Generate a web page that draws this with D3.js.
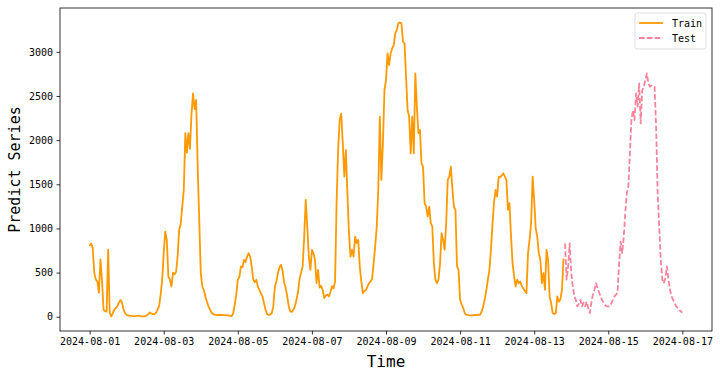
<!DOCTYPE html>
<meta charset="utf-8">
<style>
    body {
        margin: 0;
        overflow: hidden;
        background: #fff;
    }
    text {
        font-family: "DejaVu Sans Mono", monospace;
        fill: #000;
    }
</style>
<svg id="canvas" width="720" height="378"></svg>
<script src="https://d3js.org/d3.v7.min.js"></script>
<script>

    // hourly readings starting 2024-08-01 00:00
    var startTime = "2024-08-01T00:00:00Z";

    var trainValues = [
        800, 830, 780, 500, 420, 400, 270, 650, 420, 80, 60, 60, 760, 45, 5, 40, 80, 100, 120, 160, 190, 160, 80, 40,
        20, 15, 10, 10, 8, 8, 10, 10, 12, 8, 5, 5, 8, 15, 30, 50, 35, 30, 30, 45, 80, 120, 250, 420,
        720, 965, 870, 456, 420, 343, 500, 480, 510, 680, 985, 1050, 1250, 1436, 2080, 1855, 2080, 1900, 2300, 2530, 2350, 2455, 1700, 1097,
        497, 343, 300, 230, 170, 117, 80, 45, 30, 25, 22, 20, 22, 20, 20, 18, 18, 15, 15, 10, 8, 40, 136, 250,
        420, 450, 570, 560, 645, 620, 680, 720, 680, 570, 420, 390, 420, 340, 305, 260, 230, 150, 80, 30, 20, 25, 40, 120,
        343, 400, 495, 560, 588, 520, 390, 330, 230, 120, 60, 55, 80, 120, 192, 280, 430, 495, 570, 908, 1323, 1021, 680, 530,
        758, 720, 645, 380, 530, 330, 350, 300, 212, 240, 250, 230, 280, 345, 320, 400, 1300, 1900, 2230, 2300, 1965, 1587, 1889, 1400,
        947, 680, 758, 680, 908, 835, 870, 570, 400, 268, 290, 305, 340, 380, 400, 430, 607, 800, 1021, 1436, 2265, 1550, 1965, 2567,
        2680, 2982, 2850, 2982, 3039, 3077, 3208, 3246, 3322, 3330, 3322, 3114, 3095, 2718, 2341, 2265, 1851, 2265, 1851, 2756, 2379, 2078, 2115, 1738,
        1700, 1286, 1248, 1135, 1248, 1060, 1021, 607, 420, 380, 420, 600, 947, 870, 758, 1060, 1550, 1587, 1700, 1450, 1248, 1210, 570, 530,
        192, 140, 100, 42, 25, 20, 15, 15, 15, 20, 22, 20, 20, 25, 60, 120, 200, 300, 420, 530, 760, 1050, 1300, 1436,
        1360, 1587, 1580, 1600, 1625, 1587, 1550, 1210, 1286, 908, 607, 456, 343, 420, 380, 400, 345, 320, 290, 268, 720, 870, 1060, 1587,
        1320, 1000, 905, 720, 645, 380, 495, 305, 758, 645, 230, 155, 42, 30, 42, 230, 170, 200, 305, 660
    ];

    var testValues = [
        830, 420, 570, 830, 495, 350, 230, 192, 117, 150, 192, 117, 160, 117, 170, 100, 42, 155, 250, 305, 380, 330, 280, 230,
        190, 155, 130, 117, 117, 117, 150, 192, 230, 250, 268, 600, 850, 720, 900, 1172, 1400, 1475, 1851, 2228, 2340, 2228, 2530, 2380,
        2643, 2190, 2567, 2605, 2680, 2756, 2643, 2605, 2618, 2605, 2605, 2152, 1400, 1021, 645, 420, 380, 440, 570, 420, 305, 230, 190, 155,
        117, 100, 80, 60, 50
    ];

    var xTicks = ["2024-08-01", "2024-08-03", "2024-08-05", "2024-08-07", "2024-08-09",
                  "2024-08-11", "2024-08-13", "2024-08-15", "2024-08-17"];
    var yTicks = [0, 500, 1000, 1500, 2000, 2500, 3000];

    var seriesNames = ["Train", "Test"];
    var seriesColors = ["#ff9900", "#f7849c"];

    var svg = d3.select("svg");
    var margin = {left: 60, right: 8, top: 8, bottom: 47},
        width = 720 - margin.left - margin.right,
        height = 378 - margin.top - margin.bottom;

    var t0 = new Date(startTime).getTime();
    var hour = 3600 * 1000;

    var train = trainValues.map(function(v, i) { return {t: new Date(t0 + i * hour), v: v}; });
    var test = testValues.map(function(v, i) {
        return {t: new Date(t0 + (trainValues.length + i) * hour), v: v};
    });
    var all = train.concat(test);

    // matplotlib style 5% padding around data
    var tExt = d3.extent(all, function(d) { return d.t.getTime(); });
    var tPad = (tExt[1] - tExt[0]) * 0.05;
    var vExt = d3.extent(all, function(d) { return d.v; });
    var vPad = (vExt[1] - vExt[0]) * 0.05;

    var x = d3.scaleUtc()
              .domain([new Date(tExt[0] - tPad), new Date(tExt[1] + tPad)])
              .range([0, width]);
    var y = d3.scaleLinear()
              .domain([vExt[0] - vPad, vExt[1] + vPad])
              .range([height, 0]);

    var g = svg.append("g").attr("transform", "translate(" + margin.left + "," + margin.top + ")");

    var fmt = d3.utcFormat("%Y-%m-%d");
    var xAxis = g.append("g")
                 .attr("transform", "translate(0," + height + ")")
                 .call(d3.axisBottom(x)
                         .tickValues(xTicks.map(function(s) { return new Date(s + "T00:00:00Z"); }))
                         .tickFormat(fmt)
                         .tickSizeInner(3.5)
                         .tickSizeOuter(0)
                         .tickPadding(3));

    var yAxis = g.append("g")
                 .call(d3.axisLeft(y)
                         .tickValues(yTicks)
                         .tickFormat(d3.format("d"))
                         .tickSizeInner(3.5)
                         .tickSizeOuter(0)
                         .tickPadding(3.5));

    [xAxis, yAxis].forEach(function(a) {
        a.select(".domain").remove();
        a.selectAll("text")
         .style("font-family", "'DejaVu Sans Mono', monospace")
         .style("font-size", "10px")
         .attr("fill", "#000");
        a.selectAll("line").attr("stroke", "#000").attr("stroke-width", 0.8);
    });

    var line = d3.line()
                 .x(function(d) { return x(d.t); })
                 .y(function(d) { return y(d.v); });

    g.append("path")
     .datum(train)
     .attr("fill", "none")
     .attr("stroke", seriesColors[0])
     .attr("stroke-width", 1.8)
     .attr("stroke-linejoin", "round")
     .attr("d", line);

    g.append("path")
     .datum(test)
     .attr("fill", "none")
     .attr("stroke", seriesColors[1])
     .attr("stroke-width", 1.8)
     .attr("stroke-dasharray", "5.5,2.4")
     .attr("stroke-linejoin", "round")
     .attr("d", line);

    // frame
    g.append("rect")
     .attr("width", width)
     .attr("height", height)
     .attr("fill", "none")
     .attr("stroke", "#000")
     .attr("stroke-width", 0.8);

    // axis titles
    svg.append("text")
       .attr("x", margin.left + width / 2)
       .attr("y", 367)
       .attr("text-anchor", "middle")
       .style("font-size", "16px")
       .text("Time");

    svg.append("text")
       .attr("transform", "translate(20," + (margin.top + height / 2) + ") rotate(-90)")
       .attr("text-anchor", "middle")
       .style("font-size", "15px")
       .text("Predict Series");

    // legend
    var legend = svg.append("g").attr("transform", "translate(635,13)");
    legend.append("rect")
          .attr("width", 71)
          .attr("height", 36)
          .attr("rx", 2)
          .attr("fill", "#fff")
          .attr("fill-opacity", 0.8)
          .attr("stroke", "#d6d6d6")
          .attr("stroke-width", 0.8);

    seriesNames.forEach(function(name, i) {
        var row = legend.append("g").attr("transform", "translate(0," + (10 + i * 15) + ")");
        row.append("line")
           .attr("x1", 4).attr("x2", 28)
           .attr("stroke", seriesColors[i])
           .attr("stroke-width", 1.8)
           .attr("stroke-dasharray", i === 1 ? "5.5,2.4" : null);
        row.append("text")
           .attr("x", 37)
           .attr("y", 3.5)
           .style("font-size", "10px")
           .text(name);
    });

</script>
